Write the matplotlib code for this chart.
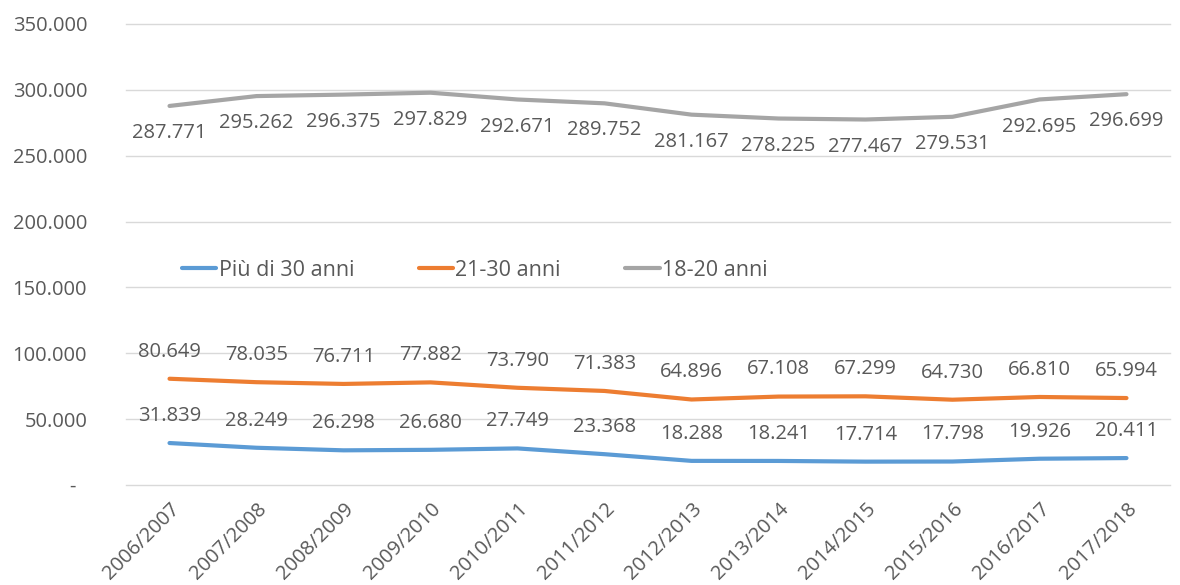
import matplotlib.pyplot as plt
from matplotlib.ticker import FuncFormatter

plt.rcParams["font.family"] = ["Open Sans", "DejaVu Sans"]

years = ["2006/2007", "2007/2008", "2008/2009", "2009/2010", "2010/2011", "2011/2012",
         "2012/2013", "2013/2014", "2014/2015", "2015/2016", "2016/2017", "2017/2018"]
over_30 = [31839, 28249, 26298, 26680, 27749, 23368, 18288, 18241, 17714, 17798, 19926, 20411]
age_21_30 = [80649, 78035, 76711, 77882, 73790, 71383, 64896, 67108, 67299, 64730, 66810, 65994]
age_18_20 = [287771, 295262, 296375, 297829, 292671, 289752, 281167, 278225, 277467, 279531, 292695, 296699]

text_c = "#595959"
series = [
    ("Più di 30 anni", over_30, "#5B9BD5", 19.5),
    ("21-30 anni", age_21_30, "#ED7D31", 19.5),
    ("18-20 anni", age_18_20, "#A5A5A5", -19.5),
]


def fmt_it(v):
    return f"{v:,.0f}".replace(",", ".")


fig = plt.figure(figsize=(11.8, 5.85), dpi=100)
ax = fig.add_axes([0.1068, 0.171, 0.8847, 0.788])

x = range(len(years))
for name, vals, col, off in series:
    ax.plot(x, vals, color=col, lw=3, label=name, solid_capstyle="round")
    for i, v in enumerate(vals):
        ax.annotate(fmt_it(v), (i, v), xytext=(0, off), textcoords="offset points",
                    ha="center", va="center", fontsize=14.5, color=text_c)

ax.set_xlim(-0.5, len(years) - 0.5)
ax.set_ylim(0, 350000)
ax.set_yticks(range(0, 350001, 50000))
ax.yaxis.set_major_formatter(FuncFormatter(lambda v, p: "-  " if v == 0 else fmt_it(v)))
ax.grid(axis="y", color="#D9D9D9", lw=1, clip_on=False)
ax.set_axisbelow(True)
for s in ax.spines.values():
    s.set_visible(False)
ax.tick_params(axis="y", length=0, pad=28, labelsize=14.5, labelcolor=text_c)
ax.set_xticks(list(x))
ax.set_xticklabels(years, rotation=45, ha="right", rotation_mode="anchor")
ax.tick_params(axis="x", length=0, pad=10, labelsize=14.5, labelcolor=text_c)

ax.legend(loc="center", bbox_to_anchor=(0.334, 0.466), ncol=3, frameon=False,
          fontsize=15.5, labelcolor=text_c, handlelength=1.6, handletextpad=0.1,
          columnspacing=3.0)

fig.savefig("out.png", dpi=100)
